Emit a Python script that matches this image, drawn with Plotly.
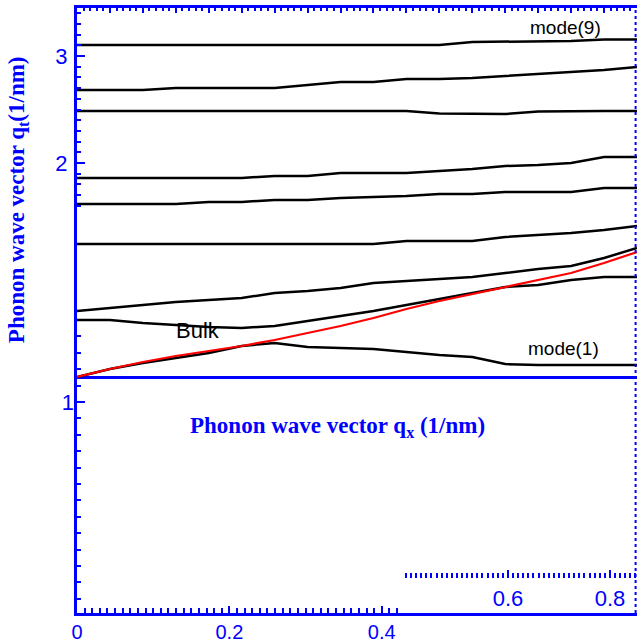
import plotly.graph_objects as go

# ---- data ----
q_x = [round(0.05 * k, 2) for k in range(18)]

mode1 = [0.0, 0.075, 0.131, 0.178, 0.224, 0.290, 0.318, 0.280, 0.271, 0.262, 0.234, 0.206, 0.187, 0.121, 0.112, 0.112, 0.112, 0.112]
mode2 = [0.533, 0.533, 0.505, 0.486, 0.467, 0.458, 0.477, 0.523, 0.570, 0.617, 0.673, 0.729, 0.785, 0.841, 0.860, 0.907, 0.935, 0.935]
mode3 = [0.617, 0.645, 0.673, 0.701, 0.720, 0.738, 0.785, 0.804, 0.832, 0.879, 0.897, 0.916, 0.935, 0.972, 1.009, 1.037, 1.112, 1.206]
mode4 = [1.243] * 10 + [1.271, 1.271, 1.271, 1.308, 1.327, 1.346, 1.374, 1.411]
mode5 = [1.617, 1.617, 1.617, 1.617, 1.636, 1.636, 1.654, 1.654, 1.673, 1.682, 1.692, 1.710, 1.710, 1.729, 1.729, 1.729, 1.766, 1.766]
mode6 = [1.860] * 6 + [1.879, 1.879, 1.907, 1.907, 1.907, 1.925, 1.944, 1.972, 1.981, 2.0, 2.056, 2.056]
mode7 = [2.486] * 11 + [2.463, 2.458, 2.458, 2.481, 2.486, 2.486, 2.486]
mode8 = [2.682, 2.682, 2.682, 2.701, 2.701, 2.701, 2.701, 2.729, 2.757, 2.757, 2.785, 2.785, 2.794, 2.813, 2.832, 2.850, 2.869, 2.897]
mode9 = [3.103] * 12 + [3.131, 3.136, 3.136, 3.140, 3.155, 3.155]
bulk = [0.0, 0.075, 0.140, 0.196, 0.243, 0.290, 0.346, 0.411, 0.477, 0.551, 0.636, 0.710, 0.776, 0.841, 0.907, 0.972, 1.065, 1.168]

modes = [mode1, mode2, mode3, mode4, mode5, mode6, mode7, mode8, mode9]

# tick labels
bottom_ticks = [0, 0.2, 0.4]
bottom_labels = ["0", "0.2", "0.4"]
inner_ticks = [0.6, 0.8]
inner_labels = ["0.6", "0.8"]
left_ticks = [2, 3]
left_labels = ["2", "3"]
low_ticks = [1.0]
low_labels = ["1"]

BLUE = "#0000FF"
TICKFONT = dict(family="Liberation Sans, Arial, sans-serif", size=22, color=BLUE)
BOTFONT = dict(family="Liberation Sans, Arial, sans-serif", size=20, color=BLUE)


def frange(a, b, s):
    n = int(round((b - a) / s))
    return [round(a + i * s, 4) for i in range(n + 1)]


fig = go.Figure()
for m in modes:
    fig.add_trace(go.Scatter(x=q_x, y=m, mode="lines", xaxis="x2", yaxis="y",
                             line=dict(color="black", width=2.5), showlegend=False,
                             hoverinfo="skip"))
fig.add_trace(go.Scatter(x=q_x, y=bulk, mode="lines", xaxis="x2", yaxis="y",
                         line=dict(color="#FF0000", width=2.2), showlegend=False,
                         hoverinfo="skip"))

# invisible anchors so the frame axes get drawn
fig.add_trace(go.Scatter(x=bottom_ticks, y=left_ticks + [2], xaxis="x", yaxis="y",
                         mode="markers", marker=dict(opacity=0), showlegend=False,
                         hoverinfo="skip"))
fig.add_trace(go.Scatter(x=inner_ticks, y=left_ticks, xaxis="x3", yaxis="y",
                         mode="markers", marker=dict(opacity=0), showlegend=False,
                         hoverinfo="skip"))
fig.add_trace(go.Scatter(x=bottom_ticks[:1], y=low_ticks, xaxis="x", yaxis="y2",
                         mode="markers", marker=dict(opacity=0), showlegend=False,
                         hoverinfo="skip"))

fig.update_layout(
    width=637, height=644,
    margin=dict(l=77, r=0, t=8, b=31, autoexpand=False),
    paper_bgcolor="white", plot_bgcolor="white",
    showlegend=False,
    xaxis=dict(
        range=[0, 0.735], domain=[0, 1], anchor="y", side="bottom", automargin=False,
        showline=True, linecolor=BLUE, linewidth=3, showgrid=False, zeroline=False,
        ticks="inside", tickmode="array", tickvals=bottom_ticks, ticktext=bottom_labels,
        ticklen=7, tickwidth=2, tickcolor=BLUE, tickfont=BOTFONT, ticklabelstandoff=-1,
        minor=dict(tickmode="array", tickvals=frange(0.01, 0.42, 0.01), ticklen=5,
                   tickwidth=2, tickcolor=BLUE, ticks="inside", showgrid=False),
    ),
    xaxis2=dict(
        range=[0, 0.85], overlaying="x", anchor="y", side="top", automargin=False,
        showline=True, linecolor=BLUE, linewidth=3, showgrid=False, zeroline=False,
        ticks="inside", dtick=0.05, tick0=0, ticklen=5, tickwidth=2, tickcolor=BLUE,
        showticklabels=False,
        minor=dict(dtick=0.01, ticklen=3, tickwidth=2, tickcolor=BLUE, ticks="inside",
                   showgrid=False),
    ),
    xaxis3=dict(
        range=[-0.245, 0.853], overlaying="x", anchor="free", position=0.058,
        side="bottom", showline=False, showgrid=False, zeroline=False, automargin=False,
        ticks="inside", tickmode="array", tickvals=inner_ticks, ticktext=inner_labels,
        ticklen=8, tickwidth=2, tickcolor=BLUE, tickfont=TICKFONT, ticklabelstandoff=5,
        minor=dict(tickmode="array",
                   tickvals=[v for v in frange(0.40, 0.85, 0.01) if v not in (0.6, 0.8)],
                   ticklen=5, tickwidth=2, tickcolor=BLUE, ticks="inside", showgrid=False),
    ),
    yaxis=dict(
        range=[-2.2056, 3.4486], domain=[0, 1], anchor="x", side="left", automargin=False,
        showline=True, linecolor=BLUE, linewidth=3, showgrid=False,
        zeroline=True, zerolinecolor=BLUE, zerolinewidth=3,
        ticks="inside", tickmode="array", tickvals=left_ticks, ticktext=left_labels,
        ticklen=8, tickwidth=2, tickcolor=BLUE, tickfont=TICKFONT, ticklabelstandoff=2,
        minor=dict(tickmode="array",
                   tickvals=[v for v in frange(1.6, 3.4, 0.1) if v not in (2.0, 3.0)],
                   ticklen=4, tickwidth=2, tickcolor=BLUE, ticks="inside", showgrid=False),
    ),
    yaxis2=dict(
        range=[0.4854, 1.961], overlaying="y", anchor="x", side="left", automargin=False,
        showline=False, showgrid=False, zeroline=False,
        ticks="inside", tickmode="array", tickvals=low_ticks, ticktext=low_labels,
        ticklen=8, tickwidth=2, tickcolor=BLUE, tickfont=TICKFONT, ticklabelstandoff=2,
        minor=dict(tickmode="array",
                   tickvals=[v for v in frange(0.52, 1.16, 0.04) if abs(v - 1.0) > 1e-6],
                   ticklen=4, tickwidth=2, tickcolor=BLUE, ticks="inside", showgrid=False),
    ),
    shapes=[dict(type="line", xref="paper", yref="paper", x0=0.9975, x1=0.9975,
                 y0=0, y1=1, line=dict(color=BLUE, width=2, dash="dot"))],
    annotations=[
        dict(text="mode(9)", xref="x2", yref="y", x=0.741, y=3.262, showarrow=False,
             xanchor="center", yanchor="middle",
             font=dict(family="Liberation Sans, Arial, sans-serif", size=19, color="black")),
        dict(text="mode(1)", xref="x2", yref="y", x=0.738, y=0.262, showarrow=False,
             xanchor="center", yanchor="middle",
             font=dict(family="Liberation Sans, Arial, sans-serif", size=19, color="black")),
        dict(text="Bulk", xref="x2", yref="y", x=0.184, y=0.43, showarrow=False,
             xanchor="center", yanchor="middle",
             font=dict(family="Liberation Sans, Arial, sans-serif", size=22, color="black")),
        dict(text="<b>Phonon wave vector q<sub>x</sub> (1/nm)</b>", xref="paper", yref="paper",
             x=0.466, y=0.3074, showarrow=False, xanchor="center", yanchor="middle",
             font=dict(family="Liberation Serif, Times New Roman, serif", size=23, color=BLUE)),
        dict(text="<b>Phonon wave vector q<sub>t</sub>(1/nm)</b>", xref="paper", yref="paper",
             x=-0.1054, y=0.684, showarrow=False, textangle=-90,
             xanchor="center", yanchor="middle",
             font=dict(family="Liberation Serif, Times New Roman, serif", size=23, color=BLUE)),
    ],
)

fig.write_html("out.html")
